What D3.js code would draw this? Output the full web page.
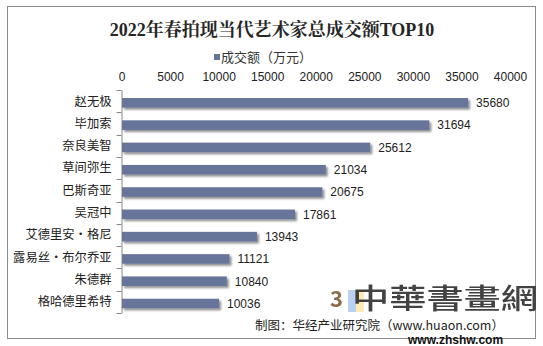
<!DOCTYPE html>
<html><head><meta charset="utf-8">
<script src="https://cdn.jsdelivr.net/npm/d3@7/dist/d3.min.js"></script>
<style>body{margin:0;background:#fff}svg{display:block}</style>
</head><body><svg id="c" width="543" height="346"></svg>
<script>
const categories = ["赵无极","毕加索","奈良美智","草间弥生","巴斯奇亚","吴冠中","艾德里安・格尼","露易丝・布尔乔亚","朱德群","格哈德里希特"];
const values = [35680,31694,25612,21034,20675,17861,13943,11121,10840,10036];
const tickValues = [0,5000,10000,15000,20000,25000,30000,35000,40000];
const title = "2022年春拍现当代艺术家总成交额TOP10";
const seriesName = "成交额（万元）";
const source = "制图：华经产业研究院（www.huaon.com）";

const svg = d3.select("#c");
const m = {left:121.5, top:90};
const cjk = "'Noto Sans CJK SC','Noto Sans',sans-serif";
const latin = "'Liberation Sans',Arial,'Noto Sans CJK SC',sans-serif";

const defs = svg.append("defs");
const f = defs.append("filter").attr("id","sh").attr("x","-5%").attr("y","-50%").attr("width","115%").attr("height","250%");
f.append("feGaussianBlur").attr("in","SourceAlpha").attr("stdDeviation",1.3).attr("result","b");
f.append("feOffset").attr("in","b").attr("dx",2).attr("dy",2).attr("result","o");
f.append("feComponentTransfer").attr("in","o").attr("result","o2").append("feFuncA").attr("type","linear").attr("slope",0.45);
const mg = f.append("feMerge");
mg.append("feMergeNode").attr("in","o2");
mg.append("feMergeNode").attr("in","SourceGraphic");

svg.append("rect").attr("x",7.5).attr("y",6.5).attr("width",528).attr("height",332)
  .attr("fill","#fff").attr("stroke","#8c8c8c").attr("stroke-width",1);

const x = d3.scaleLinear().domain([0,40000]).range([m.left, 510]);
const y = d3.scaleBand().domain(categories).range([m.top, 313]).padding(0);

svg.append("text").attr("x",272).attr("y",35.5).attr("text-anchor","middle")
  .attr("font-family","'Liberation Serif','Noto Serif CJK SC','Noto Sans CJK SC',serif")
  .attr("font-weight","bold").attr("font-size",18).attr("fill","#262626").text(title);

const lg = svg.append("g");
lg.append("rect").attr("x",214).attr("y",54).attr("width",6).attr("height",6).attr("fill","#67749a");
lg.append("text").attr("x",221).attr("y",62).attr("font-family",cjk).attr("font-size",13)
  .attr("fill","#333").text(seriesName);

const xAxis = d3.axisTop(x).tickValues(tickValues).tickSize(0).tickPadding(0).tickFormat(d3.format("d"));
const gx = svg.append("g").attr("transform","translate(0,80.5)").call(xAxis);
gx.select(".domain").remove();
gx.selectAll("text").attr("font-family",latin).attr("font-size",12).attr("fill","#222").attr("dy",0);

const yAxis = d3.axisLeft(y).tickSize(0).tickPadding(10);
const gy = svg.append("g").attr("transform",`translate(${m.left},0)`).call(yAxis);
gy.select(".domain").attr("stroke","#888");
gy.selectAll("text").attr("font-family",cjk).attr("font-size",12.3).attr("fill","#222").attr("dy","0.36em");
const bounds = categories.map(c=>y(c)).concat([y.range()[1]]);
svg.append("g").selectAll("line").data(bounds).join("line")
  .attr("x1",m.left-5).attr("x2",m.left).attr("y1",d=>Math.round(d)+0.5).attr("y2",d=>Math.round(d)+0.5)
  .attr("stroke","#888");

const bh = y.bandwidth()*0.43;
const off = y.bandwidth()*0.36;
svg.append("g").selectAll("rect").data(values).join("rect")
  .attr("x",x(0)+0.5).attr("y",(d,i)=>y(categories[i])+off)
  .attr("width",d=>x(d)-x(0)-0.5).attr("height",bh)
  .attr("fill","#67749a").attr("filter","url(#sh)");

svg.append("g").selectAll("text").data(values).join("text")
  .attr("x",d=>x(d)+8).attr("y",(d,i)=>y(categories[i])+off+bh/2).attr("dy","0.36em")
  .attr("font-family",latin).attr("font-size",12).attr("fill","#222").text(d=>d);

svg.append("text").attr("x",255).attr("y",330).attr("font-family",cjk).attr("font-size",12.5)
  .attr("fill","#222").text(source);

const wm = svg.append("g");
wm.append("rect").attr("x",348).attr("y",290).attr("width",8).attr("height",22).attr("fill","#a9c6ee").attr("opacity",0.8);
wm.append("rect").attr("x",356).attr("y",290).attr("width",8).attr("height",22).attr("fill","#f7e7a6").attr("opacity",0.8);
wm.append("text").attr("x",330).attr("y",307).attr("font-family","'Noto Sans CJK SC',serif").attr("font-weight","bold")
  .attr("font-size",22).attr("fill","#6b4a1a").attr("opacity",0.8).text("3");
wm.append("text").attr("x",352).attr("y",309).attr("font-family","'Noto Sans CJK TC',sans-serif").attr("font-weight","500")
  .attr("font-size",28).attr("fill","#222").attr("opacity",0.85).text("中華書畫網").attr("textLength",186).attr("lengthAdjust","spacingAndGlyphs");
wm.append("text").attr("x",408).attr("y",344).attr("font-family","'Liberation Sans',Arial,sans-serif").attr("font-weight","bold")
  .attr("font-size",12).attr("fill","#111").text("www.zhshw.com");
</script></body></html>
